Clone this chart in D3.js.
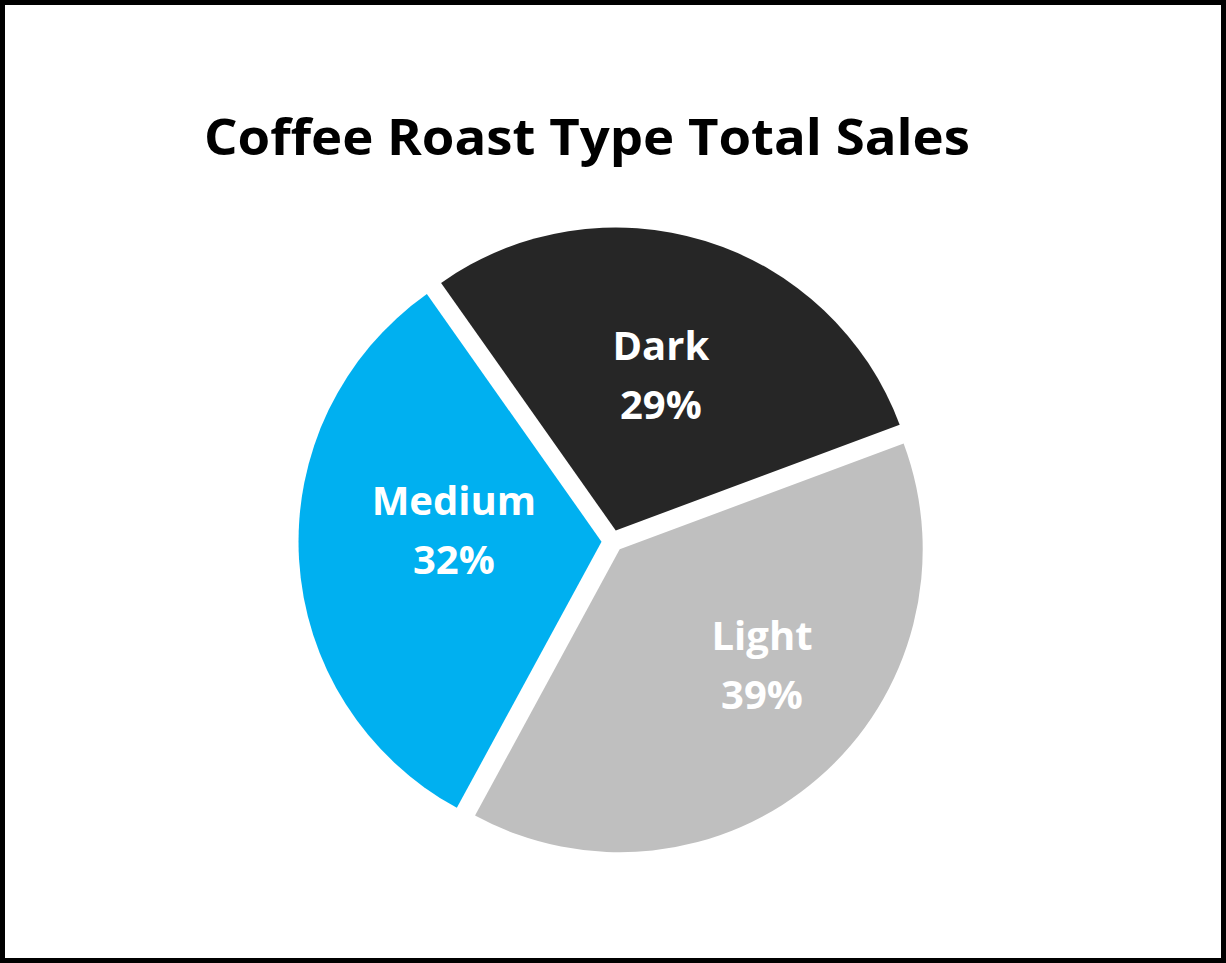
<!DOCTYPE html>
<html>
<head>
<meta charset="utf-8">
<script src="https://cdn.jsdelivr.net/npm/d3@7"></script>
<style>
  html, body { margin: 0; padding: 0; background: #fff; }
  svg { display: block; }
  text { font-family: "Open Sans", "Noto Sans", sans-serif; font-weight: 700; }
</style>
</head>
<body>
<svg id="chart" width="1226" height="963"></svg>
<script>
// ---- data ----
const categories = ["Dark", "Light", "Medium"];
const values = [29.1, 38.6, 32.3];
const colors = ["#262626", "#BFBFBF", "#00B0F0"];
const title = "Coffee Roast Type Total Sales";

// ---- layout ----
const W = 1226, H = 963;
const cx = 612.5, cy = 541;
const radius = 303;
const explode = 11;
const startDeg = -35.2;
// label placement tweaks (angle delta in degrees, distance from slice apex)
const labelPlace = { Dark: [-0.9, 161], Light: [-9.7, 184], Medium: [7.3, 148] };

const svg = d3.select("#chart");

svg.append("rect")
  .attr("x", 2.5).attr("y", 2.5)
  .attr("width", W - 5).attr("height", H - 5)
  .attr("fill", "#fff").attr("stroke", "#000").attr("stroke-width", 5);

svg.append("text")
  .attr("x", 204).attr("y", 155)
  .attr("font-size", 51)
  .attr("textLength", 766)
  .attr("lengthAdjust", "spacingAndGlyphs")
  .attr("fill", "#000")
  .text(title);

const data = categories.map((c, i) => ({ name: c, value: values[i], color: colors[i] }));
const total = d3.sum(values);
const toRad = d => d * Math.PI / 180;

const pie = d3.pie().sort(null).value(d => d.value)
  .startAngle(toRad(startDeg)).endAngle(toRad(startDeg + 360));
const arc = d3.arc().innerRadius(0).outerRadius(radius);
const pct = d3.format(".0%");

const g = svg.append("g").attr("transform", `translate(${cx},${cy})`);

const slices = g.selectAll("g.slice").data(pie(data)).join("g")
  .attr("class", "slice")
  .attr("transform", d => {
    const mid = (d.startAngle + d.endAngle) / 2;
    return `translate(${explode * Math.sin(mid)},${-explode * Math.cos(mid)})`;
  });

slices.append("path")
  .attr("d", arc)
  .attr("fill", d => d.data.color);

slices.each(function(d) {
  const mid = (d.startAngle + d.endAngle) / 2;
  const [dDeg, dist] = labelPlace[d.data.name];
  const a = mid + toRad(dDeg);
  const lx = dist * Math.sin(a), ly = -dist * Math.cos(a);
  const t = d3.select(this).append("text")
    .attr("text-anchor", "middle")
    .attr("font-size", 40)
    .attr("fill", "#fff");
  t.append("tspan").attr("x", lx).attr("y", ly - 16).text(d.data.name);
  t.append("tspan").attr("x", lx).attr("y", ly + 43).text(pct(d.data.value / total));
});
</script>
</body>
</html>
